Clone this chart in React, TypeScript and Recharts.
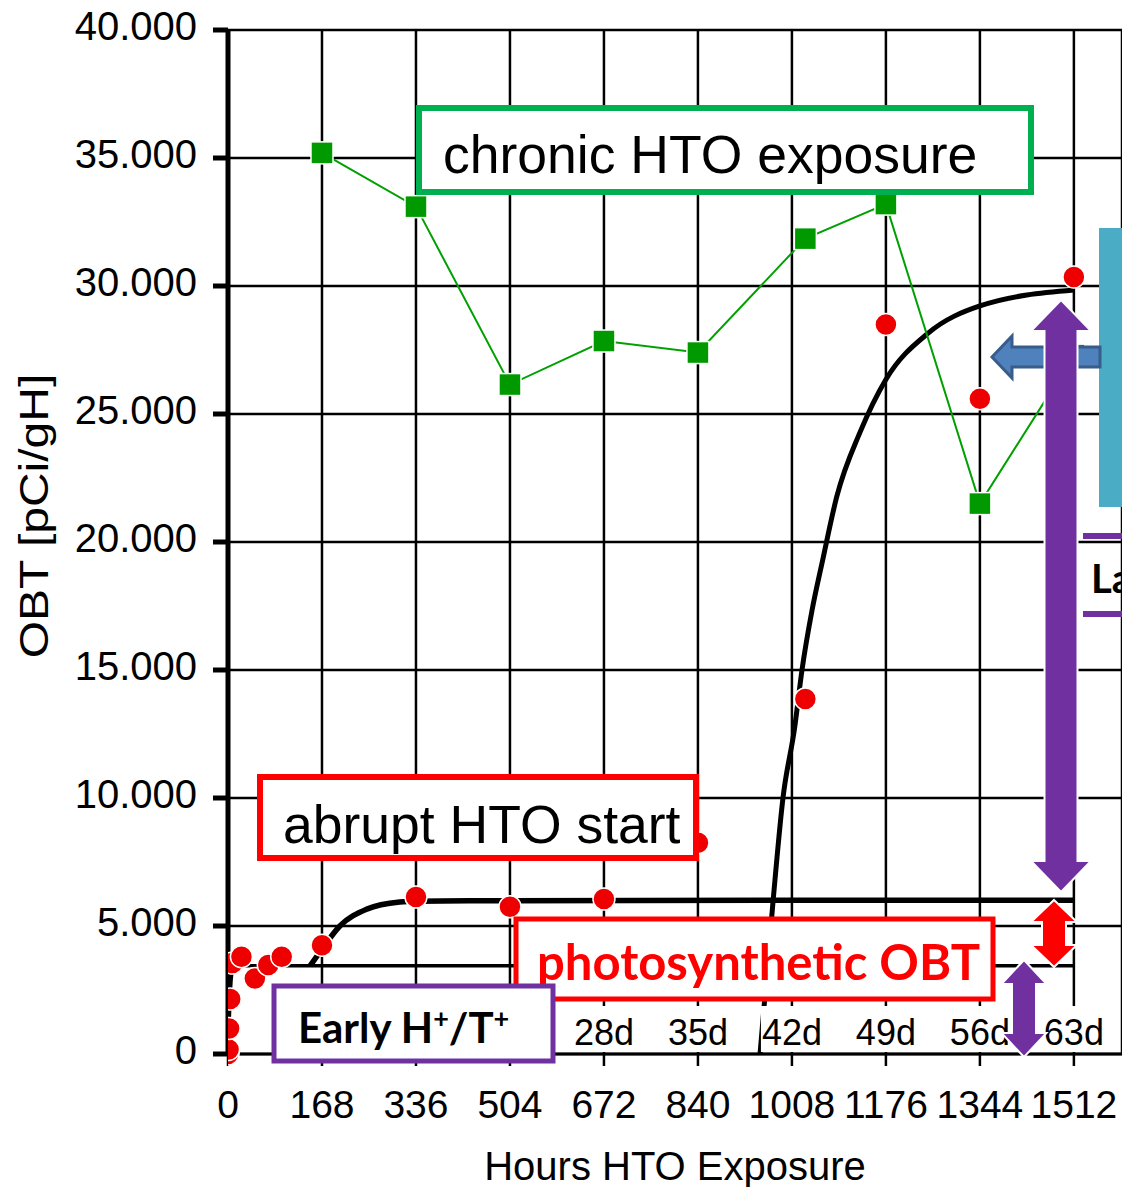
import React from 'react';
import { ComposedChart, Line, Scatter, XAxis, YAxis, CartesianGrid } from 'recharts';

// OBT in Pflanzen unter HTO-Exposition: Messpunkte + Modellkurven

const W = 1122;
const H = 1187;
const PLOT_L = 228;
const PLOT_T = 30;
const X_AXIS_H = 133;
const X_MAX = 1598; // plot is cut off on the right, just past 1512 h
const Y_MAX = 40000;

const hourTicks = [0, 168, 336, 504, 672, 840, 1008, 1176, 1344, 1512];
const obtTicks = [0, 5000, 10000, 15000, 20000, 25000, 30000, 35000, 40000];
// only the day labels that are not hidden behind the "Early" box
const dayHours = [672, 840, 1008, 1176, 1344, 1512];
const dayLabels = ['28d', '35d', '42d', '49d', '56d', '63d'];

// abrupt HTO start (red dots)
const abruptHours = [0, 1, 2, 4, 8, 24, 48, 72, 96, 168, 336, 504, 672, 840, 1032, 1176, 1344, 1512];
const abruptObt = [0, 180, 1000, 2150, 3550, 3800, 2950, 3480, 3800, 4250, 6130, 5750, 6050, 8250, 13870, 28500, 25600, 30350];

// chronic HTO exposure (green squares)
const chronicHours = [168, 336, 504, 672, 840, 1032, 1176, 1344, 1512];
const chronicObt = [35200, 33100, 26150, 27850, 27400, 31850, 33200, 21500, 27300];

// model curves
const earlyHours = [0, 2, 4, 6, 10, 20, 1512];
const earlyObt = [0, 1200, 2300, 3000, 3400, 3450, 3450];
const photoHours = [147, 168, 200, 248, 307, 336, 500, 1512];
const photoObt = [3450, 4100, 5000, 5660, 5940, 5970, 5990, 6010];
const lateHours = [951, 974, 992, 1013, 1026, 1044, 1063, 1088, 1130, 1176, 1251, 1344, 1512];
const lateObt = [0, 5900, 10000, 12770, 15000, 17340, 19300, 21760, 24300, 26350, 28150, 29220, 29840];

const zip = (hs: number[], vs: number[]) => hs.map((h, i) => ({ h, v: vs[i] }));

const ARIAL = '"Liberation Sans", Arial, sans-serif';
const CALIBRI = 'Lato, "Open Sans", sans-serif';
const PURPLE = '#7030a0';
const RED = '#ff0000';

// same mapping as the chart's own x scale, for the annotations
const px = (h: number) => PLOT_L + (h / X_MAX) * (W - PLOT_L);

function vArrow(cx: number, top: number, bottom: number, shaft: number, head: number, headLen: number) {
  return `M${cx},${top} L${cx + head},${top + headLen} L${cx + shaft},${top + headLen} ` +
    `L${cx + shaft},${bottom - headLen} L${cx + head},${bottom - headLen} L${cx},${bottom} ` +
    `L${cx - head},${bottom - headLen} L${cx - shaft},${bottom - headLen} L${cx - shaft},${top + headLen} ` +
    `L${cx - head},${top + headLen} Z`;
}

function leftArrow(tip: number, base: number, end: number, cy: number, shaft: number, head: number) {
  return `M${tip},${cy} L${base},${cy - head} L${base},${cy - shaft} L${end},${cy - shaft} ` +
    `L${end},${cy + shaft} L${base},${cy + shaft} L${base},${cy + head} Z`;
}

function Annotations() {
  return (
    <svg width={W} height={H} style={{ position: 'absolute', left: 0, top: 0, pointerEvents: 'none' }}>
      {/* day labels on the x axis */}
      {dayLabels.map((d, i) => {
        const cx = px(dayHours[i]);
        return (
          <g key={d}>
            <rect x={cx - 31} y={1006} width={62} height={46} fill="#fff" />
            <text x={cx} y={1045} textAnchor="middle" fontSize={36} fontFamily={ARIAL} fill="#000">{d}</text>
          </g>
        );
      })}

      <text transform={`translate(48,516) rotate(-90) scale(1.2,1)`} textAnchor="middle"
        fontSize={40} fontFamily={ARIAL} fill="#000">OBT [pCi/gH]</text>

      {/* chronic */}
      <rect x={419} y={108} width={612} height={84} fill="#fff" stroke="#00b050" strokeWidth={6} />
      <text x={443} y={173} fontSize={53.5} fontFamily={ARIAL} fill="#000">chronic HTO exposure</text>

      {/* abrupt */}
      <rect x={260} y={777} width={436} height={81} fill="#fff" stroke={RED} strokeWidth={6} />
      <text x={283} y={843} fontSize={53.5} fontFamily={ARIAL} fill="#000">abrupt HTO start</text>

      {/* photosynthetic */}
      <rect x={516} y={919} width={477} height={80} fill="#fff" stroke={RED} strokeWidth={5} />
      <text x={537} y={980} fontSize={49} fontWeight={700} fontFamily={CALIBRI} fill={RED}>photosynthetic OBT</text>

      {/* early */}
      <rect x={274} y={986} width={279} height={75} fill="#fff" stroke={PURPLE} strokeWidth={5} />
      <text x={298} y={1043} fontSize={42} fontWeight={700} fontFamily={CALIBRI} fill="#000">
        Early H<tspan dy={-15} fontSize={27}>+</tspan><tspan dy={15}>/T</tspan><tspan dy={-15} fontSize={27}>+</tspan>
      </text>

      {/* right side, cut off */}
      <rect x={1099} y={228} width={40} height={279} fill="#4bacc6" />
      <path d={leftArrow(992, 1012, 1100, 357, 10, 21)} fill="#4f81bd" stroke="#385d8a" strokeWidth={3} />
      <path d={vArrow(1061, 300, 892, 16.5, 30, 31)} fill={PURPLE} stroke="#fff" strokeWidth={2} />
      <path d={vArrow(1054, 900, 967, 12, 23, 22)} fill={RED} stroke="#fff" strokeWidth={2} />
      <path d={vArrow(1024, 960, 1057, 12, 22.5, 24)} fill={PURPLE} stroke="#fff" strokeWidth={2} />
      <line x1={1083} y1={536} x2={1130} y2={536} stroke={PURPLE} strokeWidth={6} />
      <line x1={1083} y1={614} x2={1130} y2={614} stroke={PURPLE} strokeWidth={6} />
      <text x={1091} y={593} fontSize={40} fontWeight={700} fontFamily={CALIBRI} fill="#000">La</text>
    </svg>
  );
}

const RedDot = (p: any) => (
  <circle cx={p.cx} cy={p.cy} r={11} fill="#ee0000" stroke="#fff" strokeWidth={1.5} />
);

const GreenSquare = (p: any) => (
  <rect key={`sq-${p.index}`} x={p.cx - 11} y={p.cy - 11} width={22} height={22}
    fill="#009900" stroke="#fff" strokeWidth={1.5} />
);

export default function App() {
  return (
    <div style={{ position: 'absolute', left: 0, top: 0, width: W, height: H, overflow: 'hidden', background: '#fff' }}>
      <ComposedChart width={W} height={H} margin={{ top: PLOT_T, right: 0, left: 0, bottom: 0 }}>
        <CartesianGrid stroke="#000" strokeWidth={2.5} />
        <XAxis
          dataKey="h"
          type="number"
          domain={[0, X_MAX]}
          ticks={hourTicks}
          interval={0}
          allowDataOverflow
          height={X_AXIS_H}
          tickSize={12}
          tickMargin={24}
          axisLine={{ stroke: '#000', strokeWidth: 3 }}
          tickLine={{ stroke: '#000', strokeWidth: 2.5 }}
          tick={{ fontSize: 39, fill: '#000', fontFamily: ARIAL }}
          label={{ value: 'Hours HTO Exposure', position: 'insideBottom', offset: 7, fontSize: 40, fill: '#000', fontFamily: ARIAL }}
        />
        <YAxis
          dataKey="v"
          type="number"
          domain={[0, Y_MAX]}
          ticks={obtTicks}
          interval={0}
          width={PLOT_L}
          tickSize={15}
          tickMargin={16}
          axisLine={{ stroke: '#000', strokeWidth: 5 }}
          tickLine={{ stroke: '#000', strokeWidth: 5 }}
          tick={{ fontSize: 40, fill: '#000', fontFamily: ARIAL, dy: -4 }}
          tickFormatter={(v: number) => (v === 0 ? '0' : (v / 1000).toFixed(3))}
        />
        <Line data={zip(earlyHours, earlyObt)} dataKey="v" type="monotone" stroke="#000" strokeWidth={3.5}
          dot={false} activeDot={false} isAnimationActive={false} />
        <Line data={zip(photoHours, photoObt)} dataKey="v" type="monotone" stroke="#000" strokeWidth={5.5}
          dot={false} activeDot={false} isAnimationActive={false} />
        <Line data={zip(lateHours, lateObt)} dataKey="v" type="monotone" stroke="#000" strokeWidth={5}
          dot={false} activeDot={false} isAnimationActive={false} />
        <Line data={zip(chronicHours, chronicObt)} dataKey="v" type="linear" stroke="#00a000" strokeWidth={2}
          dot={GreenSquare} activeDot={false} isAnimationActive={false} />
        <Scatter data={zip(abruptHours, abruptObt)} dataKey="v" shape={RedDot} isAnimationActive={false} />
      </ComposedChart>
      <Annotations />
    </div>
  );
}
